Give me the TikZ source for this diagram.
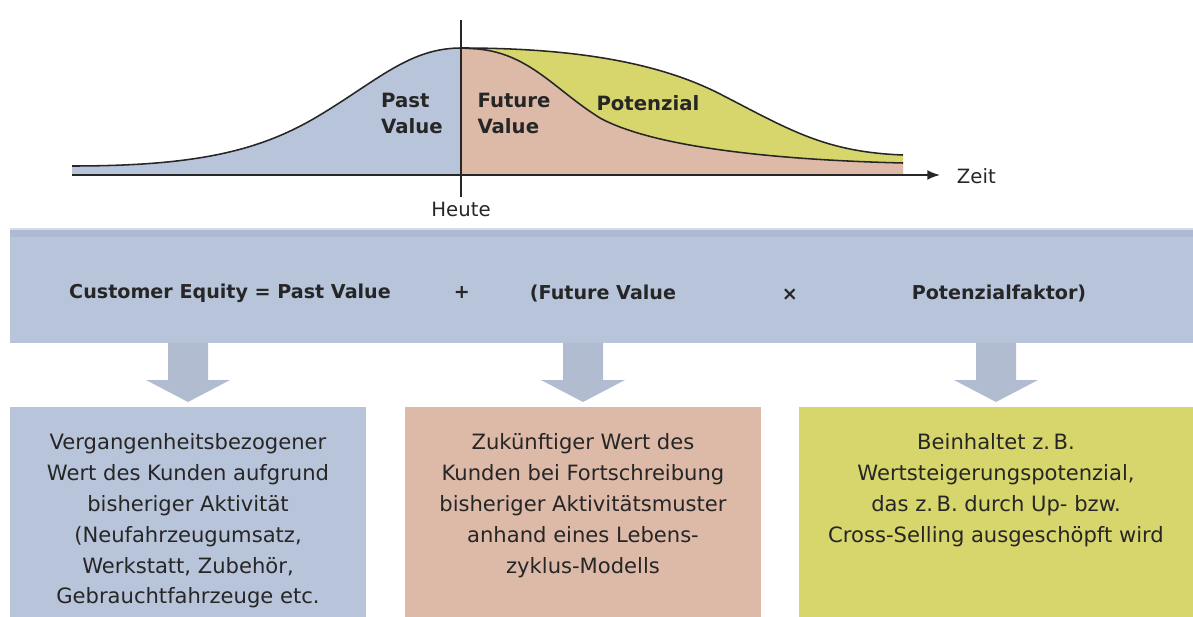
\documentclass[tikz,border=0pt]{standalone}
\usepackage{fontspec}
\setmainfont{DejaVu Sans}
\usetikzlibrary{arrows.meta,calc}

\definecolor{pastblue}{HTML}{B8C4DA}
\definecolor{bandstripe}{HTML}{AEBAD1}
\definecolor{futurerose}{HTML}{DDB9A8}
\definecolor{potyellow}{HTML}{D7D66C}
\definecolor{inkgray}{HTML}{262626}

\tikzset{
	curveline/.style = {draw=inkgray, line width=1.1pt},
	axisline/.style  = {draw=inkgray, line width=1.3pt},
	boxtext/.style   = {align=center, text=inkgray, font=\fontsize{15}{21.9}\selectfont},
	areatext/.style  = {align=left, text=inkgray, font=\bfseries\fontsize{14}{18.5}\selectfont},
	formtext/.style  = {text=inkgray, font=\bfseries\fontsize{13.6}{16}\selectfont},
	panel/.style     = {inner sep=0pt, outer sep=0pt, anchor=north west},
	blockarrow/.style= {fill=pastblue!96!black}
}

% block arrow from #1 (top) to #2 (tip)
\newcommand{\blockarrow}[2]{%
	\fill[blockarrow] ($(#1)+(-20,0)$) -- ($(#1)+(20,0)$) -- ($(#2)+(20,-22)$)
		-- ($(#2)+(42,-22)$) -- (#2) -- ($(#2)+(-42,-22)$) -- ($(#2)+(-20,-22)$) -- cycle;
}

\begin{document}
\begin{tikzpicture}[x=0.025cm, y=-0.025cm]
%
\def \px {0.025cm}

\useasboundingbox (0,0) rectangle (1193,617);

%Kurve: Flaechen
	\fill[pastblue] (72,175) -- (72,166) .. controls (200,166) and (262,150) .. (320,115)
		.. controls (378,80) and (410,48) .. (461,48) -- (461,175) -- cycle;
	\fill[potyellow] (461,48) .. controls (565,48) and (655,60) .. (722,95)
		.. controls (790,130) and (825,152) .. (903,155) -- (903,175) -- (461,175) -- cycle;
	\fill[futurerose] (461,48) -- (478,49) .. controls (530,54) and (555,90) .. (600,118)
		.. controls (655,148) and (780,160) .. (903,163) -- (903,175) -- (461,175) -- cycle;

%Kurve: Linien
	\draw[curveline] (72,166) .. controls (200,166) and (262,150) .. (320,115)
		.. controls (378,80) and (410,48) .. (461,48);
	\draw[curveline] (461,48) .. controls (565,48) and (655,60) .. (722,95)
		.. controls (790,130) and (825,152) .. (903,155);
	\draw[curveline] (461,48) -- (478,49) .. controls (530,54) and (555,90) .. (600,118)
		.. controls (655,148) and (780,160) .. (903,163);

%Achsen
	\coordinate (origin) at (72,175);
	\coordinate (timeend) at (940,175);
	\coordinate (nowtop) at (461,20);
	\coordinate (nowbot) at (461,197);
	\draw[axisline, -{Latex[length=9pt, width=7pt]}] (origin) -- (timeend);
	\draw[axisline] (nowtop) -- (nowbot);

	\node [formtext, font=\fontsize{14}{16}\selectfont] (heute) at (461,209) {Heute};
	\node [formtext, font=\fontsize{14}{16}\selectfont, anchor=west] (zeit) at (952,176) {Zeit};

	\node [areatext] (pastlbl) at (412,113) {Past\\Value};
	\node [areatext] (futurelbl) at (514,113) {Future\\Value};
	\node [areatext] (potlbl) at (648,103) {Potenzial};

%Formelband
	\node [panel, fill=pastblue, minimum width=1183*\px, minimum height=115*\px] (band) at (10,228) {};
	\fill[bandstripe] (band.north west) rectangle ($(band.north east)+(0,9)$);
	\fill[pastblue!60!white] (band.north west) rectangle ($(band.north east)+(0,2)$);

	\node [formtext] (equity) at (230,293) {Customer Equity = Past Value};
	\node [formtext] (plus) at (462,293) {+};
	\node [formtext] (future) at (603,293) {(Future Value};
	\node [formtext] (times) at (790,295) {×};
	\node [formtext] (factor) at (999,293) {Potenzialfaktor)};

%Kaesten
	\node [panel, fill=pastblue, minimum width=356*\px, minimum height=210*\px] (pastbox) at (10,407) {};
	\node [panel, fill=futurerose, minimum width=356*\px, minimum height=210*\px] (futurebox) at (405,407) {};
	\node [panel, fill=potyellow, minimum width=394*\px, minimum height=210*\px] (potbox) at (799,407) {};

	\node [boxtext, anchor=north] (pasttext) at ($(pastbox.north)+(0,22)$)
		{Vergangenheitsbezogener\\Wert des Kunden aufgrund\\bisheriger Aktivität\\(Neufahrzeugumsatz,\\Werkstatt, Zubehör,\\Gebrauchtfahrzeuge etc.};
	\node [boxtext, anchor=north] (futuretext) at ($(futurebox.north)+(0,22)$)
		{Zukünftiger Wert des\\Kunden bei Fortschreibung\\bisheriger Aktivitätsmuster\\anhand eines Lebens-\\zyklus-Modells};
	\node [boxtext, anchor=north] (pottext) at ($(potbox.north)+(0,22)$)
		{Beinhaltet z.\,B.\\Wertsteigerungspotenzial,\\das z.\,B. durch Up- bzw.\\Cross-Selling ausgeschöpft wird};

%Pfeile
	\foreach \b in {pastbox,futurebox,potbox}{
		\coordinate (top) at (band.south -| \b.north);
		\coordinate (tip) at ($(\b.north)+(0,-5)$);
		\blockarrow{top}{tip}
	}

\end{tikzpicture}
\end{document}
